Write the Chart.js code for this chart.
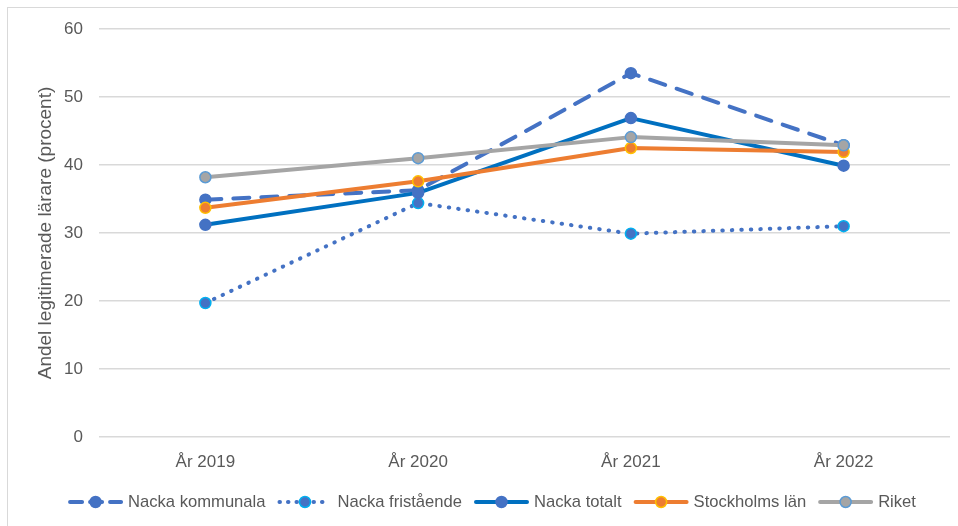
<!DOCTYPE html>
<html>
<head>
<meta charset="utf-8">
<script src="https://cdn.jsdelivr.net/npm/chart.js@4/dist/chart.umd.min.js"></script>
<style>
  html, body { margin: 0; padding: 0; background: #fff; }
  #wrap { position: absolute; left: 0; top: 0; width: 958px; height: 526px; overflow: hidden; }
  #frame { position: absolute; left: 7px; top: 7px; width: 970px; height: 540px; border: 1px solid #d9d9d9; pointer-events: none; }
</style>
</head>
<body>
<div id="wrap">
  <canvas id="canvas_fig" width="958" height="526"></canvas>
  <div id="frame"></div>
</div>
<script>
// data
var years = ['År 2019', 'År 2020', 'År 2021', 'År 2022'];
var nackaKommunala = [34.9, 36.3, 53.5, 42.9];
var nackaFristaende = [19.7, 34.4, 29.9, 31.0];
var nackaTotalt = [31.2, 35.9, 46.9, 39.9];
var stockholmsLan = [33.7, 37.6, 42.5, 41.9];
var riket = [38.2, 41.0, 44.1, 42.9];
var yTitle = 'Andel legitimerade lärare (procent)';

var textColor = '#595959';
var fontFam = '"Liberation Sans", Arial, sans-serif';

function makeSet(label, data, line, fill, border, dash, order) {
	return {
		label: label,
		data: data,
		borderColor: line,
		backgroundColor: fill,
		pointBackgroundColor: fill,
		pointBorderColor: border,
		pointBorderWidth: 1.5,
		pointRadius: 5.5,
		pointHoverRadius: 5.5,
		borderWidth: 4,
		borderDash: dash,
		borderCapStyle: 'round',
		borderJoinStyle: 'round',
		tension: 0,
		fill: false,
		order: order
	};
}

var datasets = [
	makeSet('Nacka kommunala', nackaKommunala, '#4472C4', '#4472C4', '#4472C4', [16, 12], 5),
	makeSet('Nacka fristående', nackaFristaende, '#4472C4', '#4472C4', '#00B0F0', [0.5, 9], 4),
	makeSet('Nacka totalt', nackaTotalt, '#0070C0', '#4472C4', '#4472C4', [], 3),
	makeSet('Stockholms län', stockholmsLan, '#ED7D31', '#ED7D31', '#FFC000', [], 2),
	makeSet('Riket', riket, '#A5A5A5', '#A5A5A5', '#5B9BD5', [], 1)
];

// legend drawn like the Excel one: short line with a marker in the middle
var excelLegend = {
	id: 'excelLegend',
	afterDraw: function (chart) {
		var ctx = chart.ctx;
		var sets = chart.data.datasets;
		var swatch = 55, gapText = 5, gapItem = 12, y = 502;
		ctx.save();
		ctx.font = '16.6px ' + fontFam;
		var total = 0;
		for (var i = 0; i < sets.length; i++) {
			total += swatch + gapText + ctx.measureText(sets[i].label).width;
			if (i < sets.length - 1) total += gapItem;
		}
		var x = 492 - total / 2;
		for (var j = 0; j < sets.length; j++) {
			var s = sets[j];
			ctx.beginPath();
			ctx.setLineDash(s.borderDash.length ? (s.borderDash[0] < 1 ? [0.5, 8] : [12, 8]) : []);
			ctx.lineCap = 'round';
			ctx.lineWidth = 4;
			ctx.strokeStyle = s.borderColor;
			ctx.moveTo(x + 2, y);
			ctx.lineTo(x + swatch - 2, y);
			ctx.stroke();
			ctx.setLineDash([]);
			ctx.beginPath();
			ctx.arc(x + swatch / 2, y, 5.5, 0, Math.PI * 2);
			ctx.fillStyle = s.pointBackgroundColor;
			ctx.fill();
			ctx.lineWidth = 1.5;
			ctx.strokeStyle = s.pointBorderColor;
			ctx.stroke();
			ctx.fillStyle = textColor;
			ctx.textBaseline = 'middle';
			ctx.textAlign = 'left';
			ctx.fillText(s.label, x + swatch + gapText, y);
			x += swatch + gapText + ctx.measureText(s.label).width + gapItem;
		}
		ctx.restore();
	}
};

var config = {
	type: 'line',
	data: { labels: years, datasets: datasets },
	options: {
		responsive: false,
		animation: false,
		layout: { padding: { left: 0, right: 8, top: 29, bottom: 44 } },
		plugins: {
			legend: { display: false },
			tooltip: { enabled: false }
		},
		scales: {
			x: {
				offset: true,
				grid: { display: false, drawTicks: false },
				border: { display: false },
				ticks: { color: textColor, font: { family: fontFam, size: 17 }, padding: 15 },
				afterFit: function (scale) { scale.height = 45; }
			},
			y: {
				min: 0,
				max: 60,
				ticks: { stepSize: 10, color: textColor, font: { family: fontFam, size: 17 }, padding: 16 },
				grid: { color: '#d9d9d9', lineWidth: 1.5, drawTicks: false },
				border: { display: false },
				title: {
					display: true,
					text: yTitle,
					color: textColor,
					font: { family: fontFam, size: 19 },
					padding: { top: 34, bottom: 0 }
				},
				afterFit: function (scale) { scale.width = 99; }
			}
		}
	},
	plugins: [excelLegend]
};

var ctx_fig = document.getElementById('canvas_fig').getContext('2d');
new Chart(ctx_fig, config);
</script>
</body>
</html>
